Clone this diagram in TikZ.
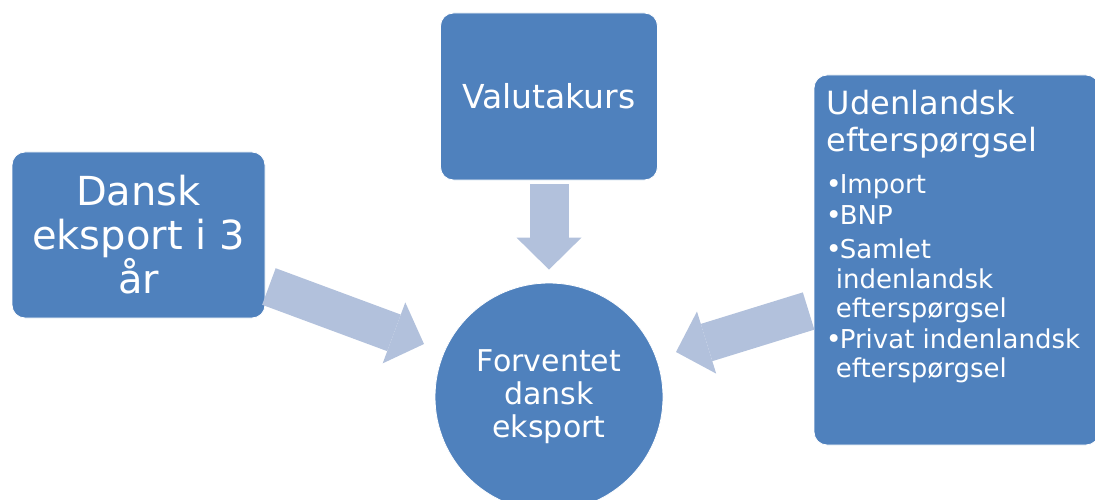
\documentclass[tikz,border=0pt]{standalone}
\usepackage{fontspec}
\setmainfont{DejaVu Sans}
\usetikzlibrary{arrows.meta,calc}
\definecolor{boxblue}{HTML}{4F81BD}
\definecolor{arrowblue}{HTML}{B2C1DC}
\newcommand{\bul}{\makebox[13pt][l]{\hspace*{-1pt}\fontsize{27}{27}\selectfont\raisebox{0pt}{•}}}
\begin{document}
\begin{tikzpicture}[x=1pt,y=-1pt,
  box/.style={fill=boxblue, draw=white, line width=0.8pt, rounded corners=13pt,
              text=white, align=center, inner sep=0pt},
  flow/.style={draw=arrowblue, line width=39pt,
               -{Triangle[length=32pt,width=65pt,line width=0pt]}},
  boxtext/.style={text=white, inner sep=0pt}]
\useasboundingbox (0,0) rectangle (1095,500);
\clip (0,0) rectangle (1095,500);

\node[box, minimum width=253pt, minimum height=166pt,
      font=\fontsize{40}{44}\selectfont] (dansk) at (138.5,235)
  {Dansk\\eksport i 3\\år};
\node[box, minimum width=217pt, minimum height=167pt,
      font=\fontsize{33}{38}\selectfont] (val) at (549,96.5)
  {Valutakurs};
\node[box, circle, rounded corners=0pt, minimum size=228pt,
      font=\fontsize{30}{33}\selectfont] (fde) at (549,397)
  {Forventet\\dansk\\eksport};
\node[box, minimum width=285pt, minimum height=370pt] (ud) at (956.5,260) {};
\node[boxtext, anchor=north west] (udtxt) at ($(ud.north west)+(13,15)$)
  {\begin{minipage}[t]{275pt}\raggedright
   {\fontsize{32}{37}\selectfont Udenlandsk\\efterspørgsel\par}
   \vspace{13pt}
   {\fontsize{26}{29.5}\selectfont
   \bul Import\\[1pt]
   \bul BNP\\[5pt]
   \bul Samlet\\
   \hspace*{9pt}indenlandsk\\
   \hspace*{9pt}efterspørgsel\\[1pt]
   \bul Privat indenlandsk\\
   \hspace*{9pt}efterspørgsel\par}
   \end{minipage}};

\draw[flow] ($(val.south)+(0,4)$) -- ($(fde.north)+(0,-13)$);
\draw[flow] ($(dansk.east)+(3.5,51.5)$) -- ($(fde.center)+(-125,-53)$);
\draw[flow] ($(ud.west)+(-5,51)$) -- ($(fde.center)+(127,-45)$);
\end{tikzpicture}
\end{document}
